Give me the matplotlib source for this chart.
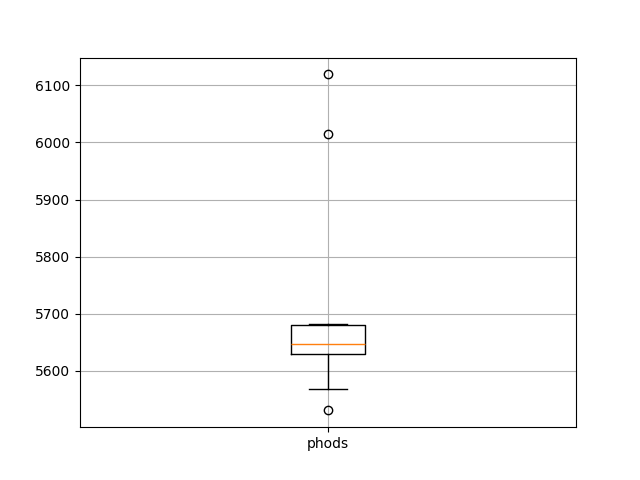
import matplotlib
matplotlib.use("Agg")
import matplotlib.pyplot as plt

label = "phods"
values = [5531, 5568, 5600, 5630, 5635, 5640, 5648, 5660, 5670, 5681, 5683, 6014, 6119]

fig, ax = plt.subplots(figsize=(6.4, 4.8), dpi=100)
ax.boxplot([values], tick_labels=[label])
ax.grid(True)
fig.savefig("out.png")
